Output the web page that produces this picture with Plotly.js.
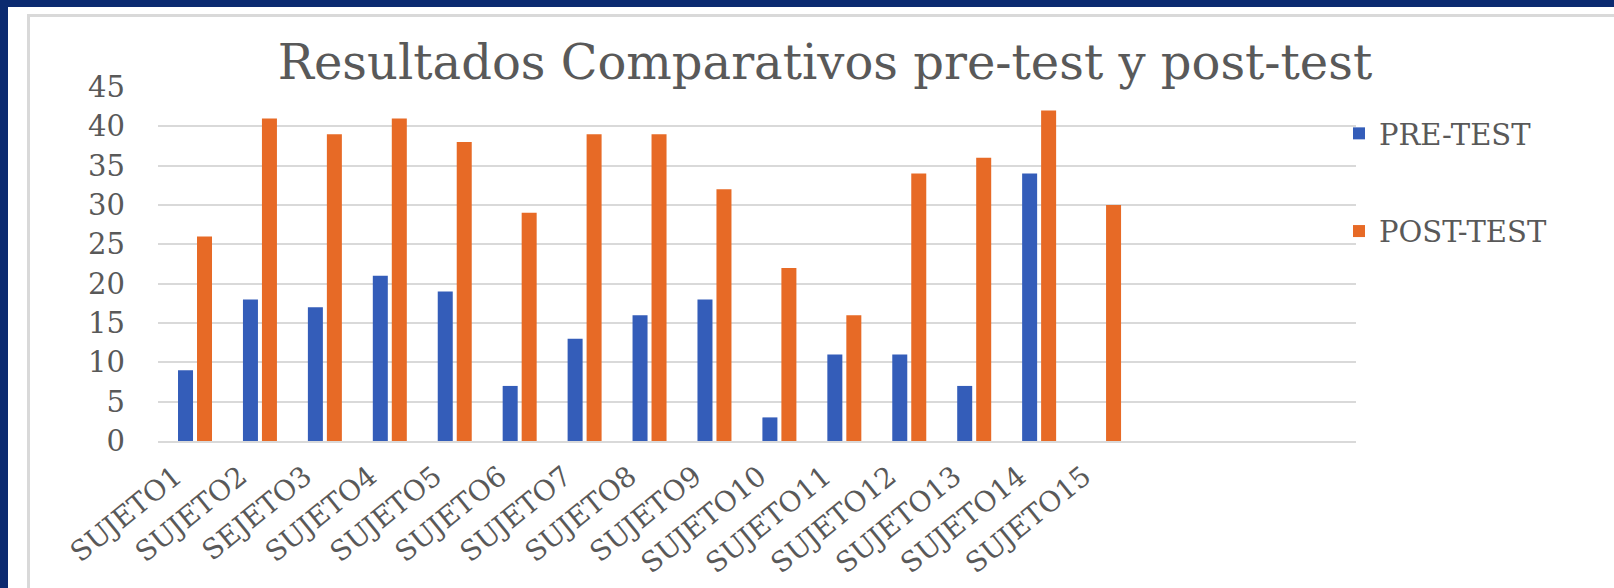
<!DOCTYPE html>
<html>
<head>
<meta charset="utf-8">
<script src="https://cdn.plot.ly/plotly-3.0.1.min.js"></script>
<style>
  html, body { margin: 0; padding: 0; background: #ffffff; }
  #chart { width: 1614px; height: 588px; }
</style>
</head>
<body>
<div id="chart"></div>
<script>
// ---- data ----
const categories = ['SUJETO1','SUJETO2','SEJETO3','SUJETO4','SUJETO5','SUJETO6','SUJETO7','SUJETO8','SUJETO9','SUJETO10','SUJETO11','SUJETO12','SUJETO13','SUJETO14','SUJETO15'];
const preTest  = [9, 18, 17, 21, 19, 7, 13, 16, 18, 3, 11, 11, 7, 34, null];
const postTest = [26, 41, 39, 41, 38, 29, 39, 39, 32, 22, 16, 34, 36, 42, 30];
const seriesNames = ['PRE-TEST', 'POST-TEST'];
const yTicks = [0, 5, 10, 15, 20, 25, 30, 35, 40, 45];

// ---- layout geometry (pixels) ----
const W = 1614, H = 588;
const L = 158, R = 1356, T = 87, B = 441;
const PW = R - L, PH = B - T;
const px = x => (x - L) / PW;
const py = y => (B - y) / PH;

const navy = '#0B2A70';
const grey = '#D9D9D9';
const textCol = '#595959';
const serif = '"DejaVu Serif", "Liberation Serif", serif';

const traces = [
  { type: 'bar', name: seriesNames[0], x: categories, y: preTest,
    marker: { color: '#345DB9' }, legendgroup: 'a', hoverinfo: 'x+y+name' },
  { type: 'bar', name: seriesNames[1], x: categories, y: postTest,
    marker: { color: '#E76A26' }, legendgroup: 'b', hoverinfo: 'x+y+name' }
];

const layout = {
  width: W, height: H,
  paper_bgcolor: '#ffffff', plot_bgcolor: '#ffffff',
  margin: { l: L, r: W - R, t: T, b: H - B, pad: 0 },
  barmode: 'group', bargap: 0.415, bargroupgap: 0.21,
  title: {
    text: 'Resultados Comparativos pre-test y post-test',
    font: { family: serif, size: 48, color: textCol },
    xref: 'container', x: 825 / W, xanchor: 'center',
    yref: 'container', y: 1 - 62 / H, yanchor: 'middle'
  },
  xaxis: {
    type: 'category',
    range: [-0.57, 17.88],
    tickangle: -39,
    tickfont: { family: serif, size: 28, color: textCol },
    ticklabelshift: -20,
    ticklabelstandoff: 6,
    showgrid: false, zeroline: false,
    showline: true, linecolor: grey, linewidth: 2,
    ticks: '', fixedrange: true
  },
  yaxis: {
    range: [0, 45],
    tickvals: yTicks,
    tickfont: { family: serif, size: 29, color: textCol },
    showgrid: true, gridcolor: grey, gridwidth: 2,
    zeroline: false, showline: false, ticks: '',
    ticklabelstandoff: 32, fixedrange: true
  },
  legend: {
    x: px(1339), xanchor: 'left',
    y: py(108), yanchor: 'top',
    font: { family: serif, size: 29, color: textCol },
    bgcolor: 'rgba(0,0,0,0)',
    tracegroupgap: 57,
    traceorder: 'grouped'
  },
  showlegend: true,
  shapes: [
    { type: 'rect', xref: 'paper', yref: 'paper', x0: px(0), x1: px(W), y0: py(0), y1: py(7), fillcolor: navy, line: { width: 0 }, layer: 'above' },
    { type: 'rect', xref: 'paper', yref: 'paper', x0: px(0), x1: px(8), y0: py(0), y1: py(H), fillcolor: navy, line: { width: 0 }, layer: 'above' },
    { type: 'line', xref: 'paper', yref: 'paper', x0: px(27), x1: px(W), y0: py(15.5), y1: py(15.5), line: { color: grey, width: 3 }, layer: 'above' },
    { type: 'line', xref: 'paper', yref: 'paper', x0: px(28.5), x1: px(28.5), y0: py(14), y1: py(H), line: { color: grey, width: 3 }, layer: 'above' }
  ]
};

Plotly.newPlot('chart', traces, layout, { displayModeBar: false, staticPlot: true });
</script>
</body>
</html>
